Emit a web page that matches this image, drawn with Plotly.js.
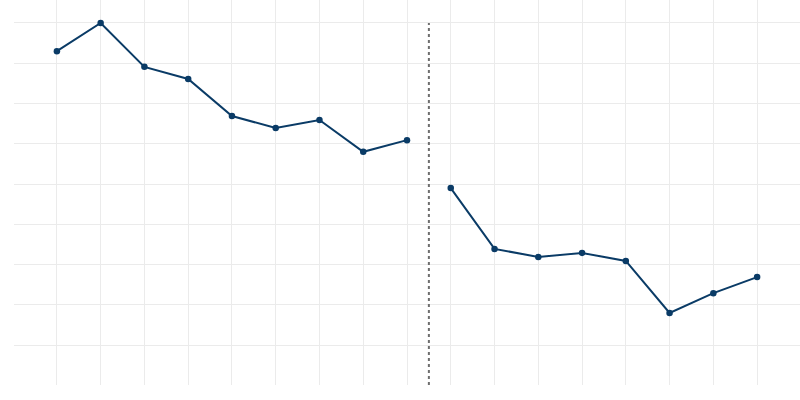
<!DOCTYPE html>
<html>
<head>
<meta charset="utf-8">
<script src="https://cdn.plot.ly/plotly-3.0.1.min.js"></script>
<style>
  html, body { margin: 0; padding: 0; background: #fff; }
  #chart { width: 800px; height: 400px; }
</style>
</head>
<body>
<div id="chart"></div>
<script>
  // periods before and after the break
  const periodsBefore = [0, 1, 2, 3, 4, 5, 6, 7, 8];
  const valuesBefore  = [7.30, 8.00, 6.91, 6.61, 5.69, 5.39, 5.59, 4.80, 5.09];

  const periodsAfter = [9, 10, 11, 12, 13, 14, 15, 16];
  const valuesAfter  = [3.90, 2.39, 2.19, 2.29, 2.09, 0.80, 1.29, 1.69];

  const breakAt = 8.5;
  const breakTop = 8;

  const lineColor = '#0a3b66';

  function series(x, y) {
    return {
      x: x, y: y,
      type: 'scatter',
      mode: 'lines+markers',
      line: {color: lineColor, width: 2},
      marker: {color: lineColor, size: 6.5},
      hoverinfo: 'skip',
      showlegend: false
    };
  }

  const data = [series(periodsBefore, valuesBefore), series(periodsAfter, valuesAfter)];

  const yRange = [-0.99, 8.57];

  const layout = {
    width: 800,
    height: 400,
    margin: {l: 14, r: 0, t: 0, b: 15, pad: 0},
    paper_bgcolor: '#fff',
    plot_bgcolor: '#fff',
    xaxis: {
      range: [-0.98, 16.98],
      dtick: 1,
      tick0: 0,
      showticklabels: false,
      ticks: '',
      zeroline: false,
      showline: false,
      gridcolor: '#ebebeb',
      gridwidth: 1
    },
    yaxis: {
      range: yRange,
      dtick: 1,
      tick0: 0,
      showticklabels: false,
      ticks: '',
      zeroline: false,
      showline: false,
      gridcolor: '#ebebeb',
      gridwidth: 1
    },
    shapes: [{
      type: 'line',
      xref: 'x', yref: 'y',
      x0: breakAt, x1: breakAt,
      y0: yRange[0], y1: breakTop,
      line: {color: '#6e6e6e', width: 2, dash: '3px,3px'}
    }]
  };

  Plotly.newPlot('chart', data, layout, {displayModeBar: false, staticPlot: true});
</script>
</body>
</html>
